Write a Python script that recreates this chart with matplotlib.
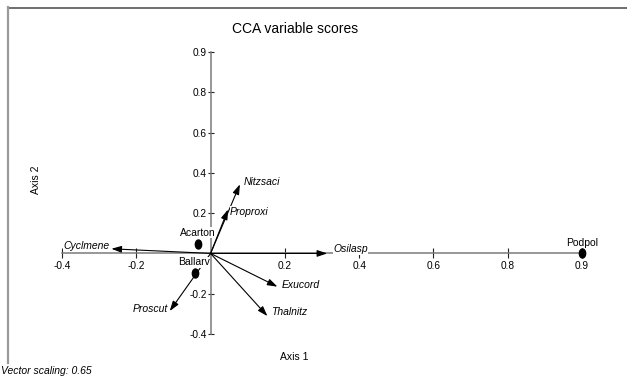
import matplotlib
matplotlib.use("Agg")
import matplotlib.pyplot as plt
from matplotlib.markers import MarkerStyle
from matplotlib.transforms import Affine2D
from matplotlib.lines import Line2D

plt.rcParams['font.family'] = ['Liberation Sans', 'DejaVu Sans']

# ---- data (plot coordinates) ----
vector_names = ["Nitzsaci", "Proproxi", "Osilasp", "Exucord", "Thalnitz", "Proscut", "Cyclmene"]
vector_x = [0.079, 0.047, 0.314, 0.180, 0.153, -0.110, -0.267]
vector_y = [0.343, 0.218, 0.000, -0.165, -0.311, -0.286, 0.023]

point_names = ["Acarton", "Ballarv", "Podpol"]
point_x = [-0.033, -0.043, 1.0]
point_y = [0.048, -0.096, 0.0]

x_ticks = [-0.4, -0.2, 0.2, 0.4, 0.6, 0.8, 1.0]
x_tick_labels = ["-0.4", "-0.2", "0.2", "0.4", "0.6", "0.8", "0.9"]
y_ticks = [-0.4, -0.2, 0.2, 0.4, 0.6, 0.8, 1.0]
y_tick_labels = ["-0.4", "-0.2", "0.2", "0.4", "0.6", "0.8", "0.9"]

# ---- label placement (pixel offsets) ----
PX = 0.72
vec_offsets = {
    "Nitzsaci": (3.5, 2, "left"),
    "Proproxi": (2, -2, "left"),
    "Osilasp": (6, 4, "left"),
    "Exucord": (4, 2, "left"),
    "Thalnitz": (4, 4, "left"),
    "Proscut": (-2, 2, "right"),
    "Cyclmene": (-2, 3, "right"),
}
pt_offsets = {
    "Acarton": (-1, 11),
    "Ballarv": (-1, 10.5),
    "Podpol": (0, 10.5),
}

W, H = 627, 376
fig = plt.figure(figsize=(W / 100, H / 100), dpi=100)
ax = fig.add_axes([62 / W, 42 / H, 520 / W, 282 / H])
ax.set_xlim(-0.4, 1.0)
ax.set_ylim(-0.4, 1.0)
ax.patch.set_visible(False)

for s in ["top", "right"]:
    ax.spines[s].set_visible(False)
ax.spines["left"].set_position(("data", 0))
ax.spines["bottom"].set_position(("data", 0))
for s in ["left", "bottom"]:
    ax.spines[s].set_color("#7a7a7a")
    ax.spines[s].set_linewidth(1.1)

ax.set_xticks(x_ticks)
ax.set_xticklabels(x_tick_labels)
ax.set_yticks(y_ticks)
ax.set_yticklabels(y_tick_labels)
ax.tick_params(axis="x", direction="inout", length=7.5, width=0.8, pad=1.5,
               labelsize=7.3, color="#222222")
ax.tick_params(axis="y", direction="inout", length=4.5, width=0.8, pad=0.5,
               labelsize=7.3, color="#222222")

label_box = dict(facecolor="white", edgecolor="none", pad=0.2)

# vectors
for name, vx, vy in zip(vector_names, vector_x, vector_y):
    ax.annotate("", xy=(vx, vy), xytext=(0, 0),
                arrowprops=dict(arrowstyle="-|>,head_length=0.6,head_width=0.2",
                                mutation_scale=10, lw=0.8, color="black",
                                shrinkA=0, shrinkB=0), zorder=3)
for name, vx, vy in zip(vector_names, vector_x, vector_y):
    dx, dy, ha = vec_offsets[name]
    ax.annotate(name, xy=(vx, vy), xytext=(dx * PX, dy * PX),
                textcoords="offset points", ha=ha, va="center",
                fontsize=7.5, style="italic", bbox=label_box, zorder=5)

# points
mk = MarkerStyle("o", transform=Affine2D().scale(0.7, 1.0))
ax.scatter(point_x, point_y, marker=mk, s=6.5 ** 2, color="black", zorder=4,
           clip_on=False)
for name, px_, py_ in zip(point_names, point_x, point_y):
    dx, dy = pt_offsets[name]
    ax.annotate(name, xy=(px_, py_), xytext=(dx * PX, dy * PX),
                textcoords="offset points", ha="center", va="center",
                fontsize=7.5, bbox=label_box, zorder=5)

# texts
fig.text(295 / W, 1 - 29 / H, "CCA variable scores", ha="center", va="center",
         fontsize=10)
fig.text(294 / W, 1 - 357 / H, "Axis 1", ha="center", va="center", fontsize=7.5)
fig.text(36 / W, 1 - 180 / H, "Axis 2", ha="center", va="center", fontsize=7.5,
         rotation=90)
fig.text(1 / W, 1 - 371 / H, "Vector scaling: 0.65", ha="left", va="center",
         fontsize=7.5, style="italic")

# frame lines
fig.add_artist(Line2D([8 / W, 1.0], [1 - 7.5 / H, 1 - 7.5 / H],
                      transform=fig.transFigure, color="#555555", lw=1.2))
fig.add_artist(Line2D([8 / W, 8 / W], [1 - 7 / H, 1 - 363 / H],
                      transform=fig.transFigure, color="#9a9a9a", lw=1.6))

fig.savefig("out.png", dpi=100)
